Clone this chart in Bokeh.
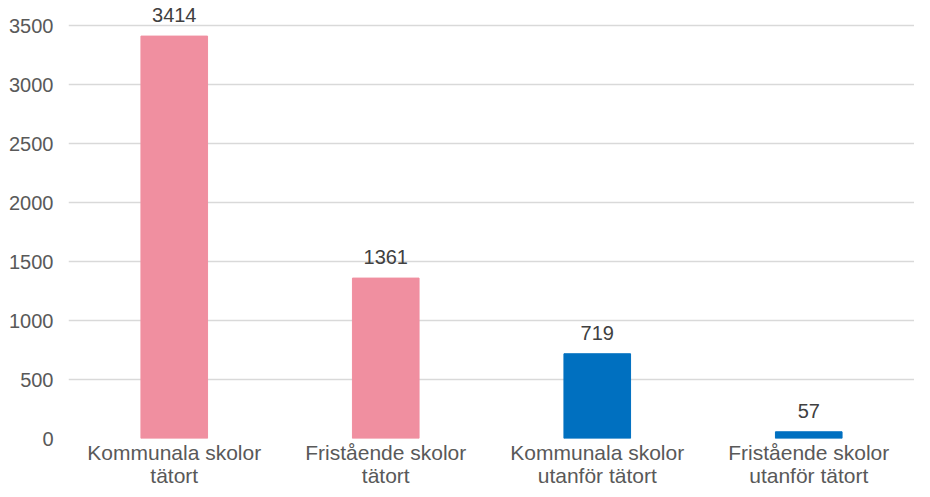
from bokeh.plotting import figure
from bokeh.models import ColumnDataSource, FixedTicker, Range1d
from bokeh.core.properties import value
from bokeh.embed import file_html
from bokeh.resources import INLINE

categories = ["Kommunala skolor\ntätort", "Fristående skolor\ntätort",
              "Kommunala skolor\nutanför tätort", "Fristående skolor\nutanför tätort"]
counts = [3414, 1361, 719, 57]
colors = ["#F08FA0", "#F08FA0", "#0070C0", "#0070C0"]
y_ticks = [0, 500, 1000, 1500, 2000, 2500, 3000, 3500]

src = ColumnDataSource(dict(cat=categories, val=counts, color=colors,
                            label=[str(v) for v in counts]))

p = figure(x_range=categories, y_range=Range1d(0, 3699), width=914, height=489,
           output_backend="svg", toolbar_location=None,
           min_border_left=68, min_border_right=0, min_border_top=2, min_border_bottom=40)
p.outline_line_color = None

p.vbar(x="cat", top="val", width=0.315, color="color", source=src)
p.text(x="cat", y="val", text="label", source=src, text_align="center",
       text_baseline="bottom", y_offset=-14, text_font=value("Liberation Sans"),
       text_font_size="20px", text_color="#404040")

p.yaxis.ticker = FixedTicker(ticks=y_ticks)
p.yaxis.axis_line_color = None
p.yaxis.major_tick_line_color = None
p.yaxis.minor_tick_line_color = None
p.yaxis.major_tick_out = 0
p.yaxis.major_tick_in = 0
p.yaxis.major_label_text_font = "Liberation Sans"
p.yaxis.major_label_text_font_size = "20px"
p.yaxis.major_label_text_color = "#595959"
p.yaxis.major_label_standoff = 15

p.xaxis.axis_line_color = None
p.xaxis.major_tick_line_color = None
p.xaxis.minor_tick_line_color = None
p.xaxis.major_tick_out = 0
p.xaxis.major_tick_in = 0
p.xaxis.major_label_text_font = "Liberation Sans"
p.xaxis.major_label_text_font_size = "21px"
p.xaxis.major_label_text_line_height = 1.0
p.xaxis.major_label_text_baseline = "middle"
p.xaxis.major_label_text_color = "#595959"
p.xaxis.major_label_standoff = 2

p.xgrid.grid_line_color = None
p.ygrid.grid_line_color = "#D9D9D9"
p.ygrid.grid_line_width = 1.5

p.background_fill_color = "white"

open("out.html", "w").write(file_html(p, INLINE))
